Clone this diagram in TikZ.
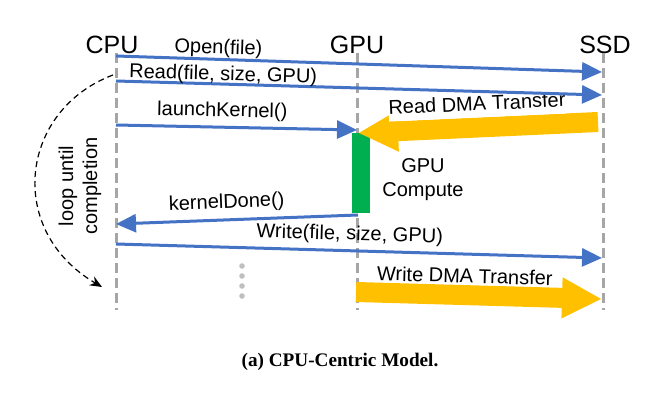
\documentclass[tikz,border=0pt]{standalone}
\usepackage{fontspec}
\setmainfont{Liberation Sans}
\newfontfamily\capfont{Liberation Serif}
\usetikzlibrary{arrows.meta}
\definecolor{msgblue}{HTML}{4472C4}
\definecolor{dmayellow}{HTML}{FFC000}
\definecolor{computegreen}{HTML}{00B050}
\definecolor{lifegray}{HTML}{A6A6A6}
\definecolor{dotgray}{HTML}{BFBFBF}

\begin{document}
\begin{tikzpicture}[x=0.5pt,y=-0.5pt,
    actor/.style={font=\fontsize{12.5pt}{15pt}\selectfont,inner sep=0pt},
    lifeline/.style={lifegray,line width=1.5pt,dash pattern=on 5pt off 2.5pt},
    msg/.style={msgblue,line width=1.5pt,-{Triangle[length=10pt,width=9pt]}},
    lbl/.style={black,font=\fontsize{10pt}{12pt}\selectfont,inner sep=0pt,sloped},
    dma/.style={dmayellow,line width=10pt,-{Triangle[length=20pt,width=19pt]}},
    loopline/.style={black,line width=0.6pt,dash pattern=on 3pt off 2pt,
      -{Stealth[length=6pt,width=5pt]}}]
    \useasboundingbox (0,0) rectangle (658,400);

    % Lifeline x-coordinates
    \def\xcpu{116}
    \def\xgpu{357}
    \def\xssd{603}

    % Actors
    \node[actor] (cpu) at (112,45) {CPU};
    \node[actor] (gpu) at (\xgpu,45) {GPU};
    \node[actor] (ssd) at (605,45) {SSD};

    % Lifelines
    \foreach \n/\x in {cpu/\xcpu,gpu/\xgpu,ssd/\xssd} {
      \coordinate (\n T) at (\x,53);
      \coordinate (\n B) at (\x,310);
      \draw[lifeline] (\n T) -- (\n B);
    }

    % GPU compute bar
    \node[fill=computegreen,inner sep=0pt,minimum width=9pt,minimum height=40pt]
      (comp) at (361,173) {};
    \node[font=\fontsize{10pt}{12pt}\selectfont,align=center] (comptxt)
      at (423,180) {GPU\\Compute};

    % Message end points
    \coordinate (openS) at (\xcpu,56);   \coordinate (openE) at (602,72);
    \coordinate (readS) at (\xcpu,81);   \coordinate (readE) at (602,95);
    \coordinate (launchS) at (\xcpu,125); \coordinate (launchE) at (357,130);
    \coordinate (doneS) at (358,215);    \coordinate (doneE) at (\xcpu,224);
    \coordinate (writeS) at (\xcpu,244); \coordinate (writeE) at (602,258);
    \coordinate (rdmaS) at (598,122);    \coordinate (rdmaE) at (358,133);
    \coordinate (wdmaS) at (356,292);    \coordinate (wdmaE) at (602,299);

    % DMA transfers
    \draw[dma] (rdmaS) -- node[lbl,pos=0.5,above=0pt,fill=white,text depth=3.5pt]
      (rdmalbl) {Read DMA Transfer} (rdmaE);
    \draw[dma] (wdmaS) -- node[lbl,pos=0.44,above=1pt] (wdmalbl) {Write DMA Transfer} (wdmaE);

    % Messages
    \draw[msg] (openS) -- node[lbl,pos=0.21,above=0pt] (openlbl) {Open(file)} (openE);
    \draw[msg] (readS) -- node[lbl,pos=0.22,above=-1pt] (readlbl) {Read(file, size, GPU)} (readE);
    \draw[msg] (launchS) -- node[lbl,pos=0.44,above=2.5pt] (launchlbl) {launchKernel()} (launchE);
    \draw[msg] (doneS) -- node[lbl,pos=0.54,above=3pt] (donelbl) {kernelDone()} (doneE);
    \draw[msg] (writeS) -- node[lbl,pos=0.48,above=2.5pt] (writelbl) {Write(file, size, GPU)} (writeE);

    % Loop
    \coordinate (loopS) at (113,75);
    \coordinate (loopE) at (102,287);
    \draw[loopline] (loopS) .. controls (20,110) and (5,230) .. (loopE);
    \node[font=\fontsize{10pt}{12pt}\selectfont,align=center,rotate=90] (looptxt)
      at (80,186) {loop until\\completion};

    % More steps
    \foreach \k in {0,...,3} {
      \node[circle,fill=dotgray,inner sep=0pt,minimum size=2.8pt] (dot\k) at (242,266+10*\k) {};
    }

    % Caption
    \node[font=\capfont\fontsize{9.6pt}{11pt}\selectfont\bfseries] (caption)
      at (340,362) {(a) CPU-Centric Model.};

  \end{tikzpicture}
\end{document}
